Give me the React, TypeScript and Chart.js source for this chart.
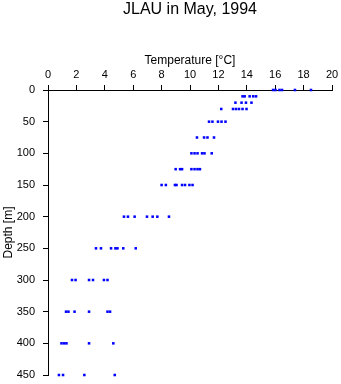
import React, { useEffect, useRef } from "react";
import { Chart, registerables } from "chart.js";

Chart.register(...registerables);

const title = "JLAU in May, 1994";
const xTitle = "Temperature [°C]";
const yTitle = "Depth [m]";

const depths = [0, 10, 20, 30, 50, 75, 100, 125, 150, 200, 250, 300, 350, 400, 450];
const t0 = [15.85, 16.02, 16.3, 16.48, 17.39, 18.52];
const t10 = [13.7, 13.85, 14.2, 14.45, 14.65];
const t20 = [13.2, 13.63, 13.94, 14.33];
const t30 = [12.2, 13.03, 13.24, 13.45, 13.7, 13.98];
const t50 = [11.34, 11.58, 11.97, 12.22, 12.5];
const t75 = [10.49, 10.99, 11.23, 11.69];
const t100 = [10.1, 10.32, 10.53, 10.85, 11.02, 11.53];
const t125 = [8.99, 9.3, 9.44, 10.1, 10.32, 10.53, 10.7];
const t150 = [8.0, 8.3, 8.94, 9.05, 9.44, 9.65, 9.96, 10.18];
const t200 = [5.35, 5.63, 6.1, 6.97, 7.37, 7.7, 8.52];
const t250 = [3.38, 3.73, 4.44, 4.75, 4.89, 5.3, 6.18];
const t300 = [1.69, 1.94, 2.89, 3.17, 3.94, 4.19];
const t350 = [1.27, 1.44, 1.87, 2.89, 4.19, 4.37];
const t400 = [0.95, 1.13, 1.3, 2.89, 4.6];
const t450 = [0.77, 1.06, 2.56, 4.7];

const tempsByDepth = [t0, t10, t20, t30, t50, t75, t100, t125, t150, t200, t250, t300, t350, t400, t450];

export default function App() {
  const ref = useRef<HTMLCanvasElement | null>(null);
  useEffect(() => {
    if (!ref.current) return;
    const points: { x: number; y: number }[] = [];
    depths.forEach((d, i) => tempsByDepth[i].forEach((t) => points.push({ x: t, y: d })));
    const font = "'Liberation Sans', Arial, Helvetica, sans-serif";
    const chart = new Chart(ref.current, {
      type: "scatter",
      data: {
        datasets: [
          {
            data: points,
            pointStyle: "rect",
            pointRadius: 1.8,
            pointHoverRadius: 1.8,
            backgroundColor: "#0000ff",
            borderColor: "#0000ff",
            borderWidth: 0,
            clip: false,
          },
        ],
      },
      options: {
        responsive: false,
        animation: false,
        layout: { padding: { left: 0, right: 9, top: 0, bottom: 9 } },
        plugins: {
          legend: { display: false },
          tooltip: { enabled: false },
          title: {
            display: true,
            text: title,
            fullSize: false,
            color: "#000",
            font: { family: font, size: 16, weight: "normal" },
            padding: { top: 0, bottom: 0 },
          },
        },
        scales: {
          x: {
            type: "linear",
            position: "top",
            min: 0,
            max: 20,
            ticks: { stepSize: 2, color: "#000", font: { family: font, size: 11 }, padding: 3 },
            grid: { drawOnChartArea: false, drawTicks: true, tickLength: 5, color: "#000" },
            border: { display: true, color: "#000", width: 1 },
            title: {
              display: true,
              text: xTitle,
              color: "#000",
              font: { family: font, size: 12 },
              padding: { top: 34, bottom: 0 },
            },
            afterFit: (s: any) => {
              s.height = 70.8;
              s.paddingLeft = 0;
              s.paddingRight = 0;
            },
          },
          y: {
            type: "linear",
            reverse: true,
            min: 0,
            max: 450,
            ticks: { stepSize: 50, color: "#000", font: { family: font, size: 11 }, padding: 8 },
            grid: { drawOnChartArea: false, drawTicks: true, tickLength: 5, color: "#000" },
            border: { display: true, color: "#000", width: 1 },
            title: {
              display: true,
              text: yTitle,
              color: "#000",
              font: { family: font, size: 12 },
              padding: { top: 1, bottom: 0 },
            },
            afterFit: (s: any) => {
              s.width = 48;
              s.paddingTop = 0;
              s.paddingBottom = 0;
            },
          },
        },
      },
    });
    return () => chart.destroy();
  }, []);
  return (
    <div style={{ position: "fixed", left: 0, top: 0, width: 341, height: 384, background: "#fff" }}>
      <canvas ref={ref} width={341} height={384} />
    </div>
  );
}
